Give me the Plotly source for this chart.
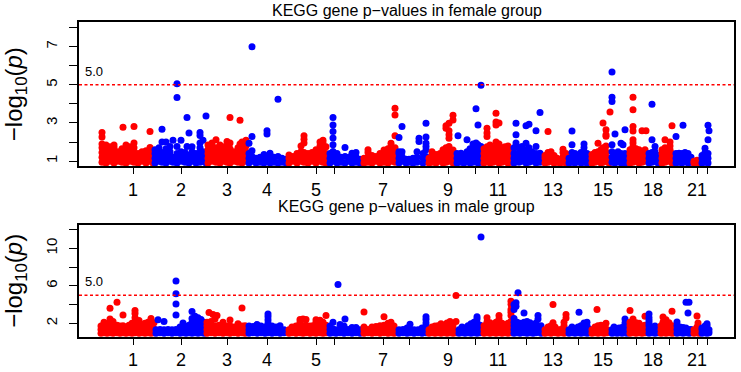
import plotly.graph_objects as go

RED = "#FF0000"
BLUE = "#0000FF"

# chromosome tick positions (cumulative position units) and labels
chrom_ticks = [133, 181, 227, 267, 316, 334, 383, 409, 448, 475, 498, 526,
               553, 578, 603, 617, 636, 653, 669, 683, 697, 707]
chrom_labels = ["1", "2", "3", "4", "5", "", "7", "", "9", "", "11", "",
                "13", "", "15", "", "", "18", "", "", "21", ""]

threshold = 5.0

female_yticks = [1, 2, 3, 4, 5, 6, 7, 8]
female_ylabels = ["1", "", "3", "", "5", "", "7", ""]
male_yticks = [2, 4, 6, 8, 10, 12]
male_ylabels = ["2", "", "6", "", "10", ""]

# (chromosome, cumulative position, -log10(p) values of genes at that position)
female_genes = [
    (1, 102, [0.95, 1.2, 1.45, 1.7, 1.9, 2.26, 2.5]),
    (1, 106, [0.9, 1.15, 1.4, 1.65, 1.85]),
    (1, 110, [1.0, 1.25, 1.5, 1.75]),
    (1, 114, [0.9, 1.15, 1.4, 1.7, 1.85]),
    (1, 118, [1.0, 1.25, 1.5]),
    (1, 122, [0.95, 1.2, 1.45, 1.65]),
    (1, 123, [2.78]),
    (1, 126, [0.9, 1.15, 1.4, 1.6, 1.85]),
    (1, 130, [1.0, 1.25, 1.5, 1.75]),
    (1, 134, [0.95, 1.2, 1.45, 1.7, 1.95, 2.81]),
    (1, 138, [0.9, 1.15, 1.4]),
    (1, 142, [1.0, 1.25, 1.5]),
    (1, 146, [0.9, 1.15, 1.4, 1.55]),
    (1, 150, [1.0, 1.25, 1.5, 1.72, 2.55]),
    (1, 153, [0.9, 1.15, 1.4]),
    (2, 155, [0.9, 1.15, 1.4, 1.6]),
    (2, 159, [1.0, 1.25, 1.5, 1.7]),
    (2, 162, [0.95, 1.2, 1.45, 2.0, 2.67]),
    (2, 166, [0.9, 1.15, 1.4, 1.65, 2.0]),
    (2, 170, [1.0, 1.25, 1.5, 1.77]),
    (2, 173, [0.95, 1.2, 2.1]),
    (2, 177, [0.9, 1.15, 1.4, 1.77, 4.33, 5.06]),
    (2, 181, [1.0, 1.25, 1.5, 2.1]),
    (2, 185, [0.95, 1.2, 1.45]),
    (2, 187, [1.33, 1.77, 3.29]),
    (2, 189, [0.9, 1.15, 2.47]),
    (2, 192, [1.0, 1.25, 1.5, 1.75]),
    (2, 196, [0.9, 1.15, 1.4]),
    (2, 200, [0.95, 1.2, 1.45, 1.7, 1.95, 2.35, 2.5]),
    (2, 203, [1.0, 1.25, 1.5, 2.1]),
    (2, 206, [0.9, 3.37]),
    (3, 208, [0.9, 1.15, 1.4, 1.6, 1.85]),
    (3, 212, [1.0, 1.25, 1.5, 1.75, 1.95]),
    (3, 216, [0.95, 1.2, 1.45, 1.7, 2.12]),
    (3, 220, [0.9, 1.15, 1.4, 1.65, 1.85]),
    (3, 224, [1.0, 1.25, 1.5, 1.75]),
    (3, 227, [0.95, 1.2, 1.45, 1.7, 2.03]),
    (3, 230, [0.9, 1.15, 1.4, 1.65, 1.95, 3.29]),
    (3, 234, [1.0, 1.25, 1.5]),
    (3, 238, [0.95, 1.2, 1.45, 1.7]),
    (3, 240, [1.9, 3.14]),
    (3, 242, [0.9, 1.15, 1.4, 1.65, 2.0]),
    (3, 246, [1.0, 1.25, 1.5, 1.8, 2.1]),
    (4, 249, [0.9, 1.15, 1.4, 1.94]),
    (4, 252, [1.0, 1.25, 1.55, 2.29, 7.0]),
    (4, 256, [0.9, 1.15]),
    (4, 260, [0.95, 1.2]),
    (4, 264, [0.9, 1.15, 1.35]),
    (4, 267, [1.0, 1.25, 2.43, 2.6]),
    (4, 270, [0.9, 1.15, 1.42]),
    (4, 274, [0.95, 1.2]),
    (4, 278, [0.9, 1.24, 4.24]),
    (4, 282, [0.95, 1.15]),
    (4, 286, [0.9, 1.1]),
    (5, 289, [0.9, 1.15, 1.33]),
    (5, 293, [1.0, 1.25]),
    (5, 297, [0.9, 1.15, 1.4]),
    (5, 301, [1.0, 1.25, 1.5, 1.8]),
    (5, 304, [0.95, 1.2, 1.45, 1.95, 2.15, 2.33]),
    (5, 308, [0.9, 1.15, 1.4]),
    (5, 312, [1.0, 1.25, 1.45]),
    (5, 316, [0.9, 1.15, 1.4, 1.6]),
    (5, 320, [1.0, 1.25, 1.5, 1.8, 2.0]),
    (5, 323, [0.95, 1.2, 1.45, 1.7, 1.95, 2.1]),
    (5, 326, [0.9, 1.15, 1.4, 1.75]),
    (6, 330, [0.9, 1.15, 1.4]),
    (6, 333, [1.0, 1.25, 1.51, 1.86, 2.21, 2.56, 2.9, 3.29]),
    (6, 337, [0.9, 1.15, 1.4]),
    (6, 341, [0.95, 1.2]),
    (6, 345, [0.9, 1.24, 1.72]),
    (6, 349, [1.0, 1.2]),
    (6, 352, [0.9, 1.15, 1.42]),
    (6, 356, [0.95, 1.2, 1.46]),
    (6, 360, [0.9, 1.1]),
    (7, 364, [0.9, 1.15]),
    (7, 368, [0.95, 1.2, 1.45, 1.6]),
    (7, 372, [0.9, 1.15, 1.3]),
    (7, 376, [1.0, 1.25]),
    (7, 380, [0.9, 1.15, 1.4]),
    (7, 384, [0.95, 1.2, 1.45, 1.59]),
    (7, 388, [0.9, 1.15, 1.4, 1.65]),
    (7, 391, [1.0, 1.25, 1.5, 1.77, 1.94]),
    (7, 395, [0.95, 1.2, 1.45, 1.7, 2.33, 3.42, 3.77]),
    (8, 399, [0.9, 1.15, 1.4, 1.5, 2.24]),
    (8, 402, [1.0, 1.25, 1.5, 2.81]),
    (8, 406, [0.9, 1.1]),
    (8, 409, [0.95, 1.1]),
    (8, 413, [0.9, 1.15]),
    (8, 417, [0.95, 1.2, 1.5]),
    (8, 419, [2.03, 2.2]),
    (8, 423, [0.9, 1.15, 1.4]),
    (8, 426, [1.0, 1.25, 1.6, 1.77, 1.94, 2.27, 2.99]),
    (9, 429, [0.9, 1.15]),
    (9, 432, [0.95, 1.2, 1.33, 1.5]),
    (9, 436, [0.9, 1.15, 1.35]),
    (9, 440, [1.0, 1.25, 1.4]),
    (9, 443, [0.9, 1.15, 1.4, 1.6]),
    (9, 446, [0.95, 1.2, 1.45, 1.7, 2.72, 2.85]),
    (9, 449, [1.0, 1.25, 1.5, 1.77, 2.2, 2.38, 2.6, 2.99]),
    (9, 453, [0.9, 1.15, 1.4, 1.59, 3.16, 3.4]),
    (9, 455, [0.95, 1.24]),
    (10, 457, [0.9, 1.15, 1.4]),
    (10, 458, [2.33]),
    (10, 461, [0.95, 1.2, 1.42]),
    (10, 464, [0.9, 1.15, 1.35]),
    (10, 467, [1.0, 1.25, 1.5, 2.12]),
    (10, 470, [0.9, 1.15, 1.4, 1.65]),
    (10, 473, [0.95, 1.2, 1.45, 1.7, 1.9]),
    (10, 476, [1.0, 1.25, 1.5, 1.75, 1.95, 3.74]),
    (10, 478, [0.9, 1.15, 1.4, 1.65, 1.86, 2.9]),
    (10, 481, [0.95, 1.2, 1.45, 1.77, 4.98]),
    (11, 484, [0.9, 1.15, 1.4, 1.65]),
    (11, 487, [1.0, 1.25, 1.5, 1.75, 2.29, 2.47, 2.72]),
    (11, 490, [0.9, 1.15, 1.4, 1.65, 1.85]),
    (11, 493, [0.95, 1.2, 1.45, 1.7]),
    (11, 496, [1.0, 1.25, 1.5, 1.75, 2.0, 2.9, 3.05, 3.51]),
    (11, 499, [0.9, 1.15, 1.4, 1.65, 1.9, 3.0]),
    (11, 502, [0.95, 1.2, 1.45, 1.7]),
    (11, 505, [1.0, 1.25, 1.5, 1.75]),
    (11, 508, [0.9, 1.15, 1.4, 1.65, 1.8]),
    (11, 511, [0.95, 1.2, 1.45]),
    (12, 514, [0.9, 1.15, 1.4, 1.7]),
    (12, 516, [1.95, 2.38, 2.99]),
    (12, 519, [0.95, 1.2, 1.45, 1.7]),
    (12, 522, [1.0, 1.25, 1.5, 1.77]),
    (12, 526, [0.9, 1.15, 1.4, 1.6, 1.94, 2.86]),
    (12, 529, [0.95, 1.2, 1.45, 1.7, 2.94]),
    (12, 532, [1.0, 1.25, 1.5]),
    (12, 536, [0.9, 1.15, 1.4, 1.77, 2.6]),
    (12, 540, [0.95, 1.2, 1.42, 3.55]),
    (13, 545, [0.9, 1.15, 1.3]),
    (13, 548, [0.95, 1.2, 1.45, 2.55]),
    (13, 551, [1.0, 1.25, 1.5]),
    (13, 554, [0.9, 1.15, 1.3]),
    (13, 557, [0.95, 1.15]),
    (13, 560, [0.9, 1.1]),
    (13, 563, [0.95, 1.2, 1.45, 1.63]),
    (13, 566, [0.9, 1.15, 1.4]),
    (14, 569, [0.9, 1.15]),
    (14, 572, [0.95, 1.2, 1.45, 1.86, 2.58]),
    (14, 575, [0.9, 1.15, 1.4]),
    (14, 578, [1.0, 1.25]),
    (14, 581, [0.9, 1.15, 1.45]),
    (14, 584, [0.95, 1.2, 1.45, 1.7, 1.9]),
    (14, 587, [0.9, 1.15, 1.4]),
    (14, 589, [1.0, 1.2]),
    (15, 592, [0.9, 1.15, 1.35]),
    (15, 595, [0.95, 1.2, 1.45]),
    (15, 598, [1.0, 1.25, 1.5, 1.94]),
    (15, 601, [0.9, 1.15, 1.4, 1.6]),
    (15, 603, [0.95, 1.2, 1.45, 1.7, 3.0]),
    (15, 606, [1.0, 1.25, 1.5, 1.8, 2.3, 2.38, 2.64]),
    (15, 609, [0.9, 1.15]),
    (15, 610, [3.58]),
    (16, 612, [0.95, 1.2, 1.5, 1.86, 4.12, 4.35, 5.67]),
    (16, 615, [0.9, 1.15, 1.4, 2.43]),
    (16, 618, [1.0, 1.25, 1.5]),
    (16, 621, [0.9, 1.15, 1.4, 1.94]),
    (16, 623, [1.0, 1.24, 1.86]),
    (16, 625, [0.9, 1.15, 1.4, 2.64]),
    (16, 627, [0.95, 1.2]),
    (17, 630, [0.9, 1.15, 1.4, 1.6]),
    (17, 633, [0.95, 1.2, 1.45, 1.77, 1.95, 2.12, 2.58, 2.81, 3.69, 4.35]),
    (17, 636, [1.0, 1.25, 1.5, 1.65]),
    (17, 639, [0.9, 1.15, 1.4, 1.6]),
    (17, 642, [0.95, 1.2, 1.45, 2.59]),
    (17, 645, [1.0, 1.25, 1.5, 1.6]),
    (17, 646, [2.59]),
    (18, 649, [0.9, 1.15, 1.4]),
    (18, 652, [0.95, 1.2, 1.45, 2.12, 3.98]),
    (18, 655, [1.0, 1.25, 1.5, 1.77]),
    (18, 658, [0.9, 1.15, 1.3]),
    (19, 662, [0.9, 1.15, 1.4, 1.6]),
    (19, 665, [0.95, 1.2, 1.45, 1.7, 2.12]),
    (19, 668, [1.0, 1.25, 1.5]),
    (19, 670, [1.6, 1.8, 2.0]),
    (19, 672, [0.9, 1.15, 1.4, 2.85]),
    (19, 674, [0.95, 1.2]),
    (20, 676, [0.9, 1.15, 1.4, 2.29]),
    (20, 679, [0.95, 1.2, 1.42]),
    (20, 682, [0.9, 1.15, 1.4]),
    (20, 683, [2.88]),
    (20, 685, [1.0, 1.25, 1.45]),
    (20, 688, [0.9, 1.15, 1.4]),
    (20, 691, [0.95, 1.2]),
    (21, 694, [0.9, 1.0]),
    (21, 697, [0.85, 0.95, 1.05]),
    (21, 699, [0.9]),
    (22, 702, [0.9, 1.15, 1.3]),
    (22, 705, [0.95, 1.2, 1.45, 1.68]),
    (22, 708, [0.9, 1.15, 1.4, 2.12, 2.88]),
    (22, 709, [2.6]),
]

male_genes = [
    (1, 101, [0.95, 1.35, 1.7]),
    (1, 104, [1.0, 1.4, 1.8, 2.1]),
    (1, 107, [0.95, 1.35, 1.75]),
    (1, 110, [1.0, 1.4, 1.8, 2.1, 2.46, 3.61]),
    (1, 113, [0.95, 1.35, 1.75, 2.2]),
    (1, 117, [1.0, 1.4, 1.8, 4.25]),
    (1, 120, [0.95, 1.35, 1.7]),
    (1, 123, [1.0, 1.4, 1.75, 2.88]),
    (1, 126, [0.95, 1.35, 1.6]),
    (1, 129, [1.0, 1.4, 1.8]),
    (1, 132, [0.95, 1.35, 1.75, 2.0]),
    (1, 135, [1.0, 1.4, 1.8, 2.2, 2.6, 3.05, 3.36]),
    (1, 139, [0.95, 1.35, 1.75, 2.3]),
    (1, 142, [1.0, 1.4, 1.8]),
    (1, 145, [0.95, 1.35, 1.75, 2.0]),
    (1, 148, [1.0, 1.4, 1.8, 2.1]),
    (1, 151, [0.95, 1.35, 1.75, 2.5]),
    (1, 154, [1.0, 1.4, 2.05]),
    (2, 156, [0.95, 1.3]),
    (2, 158, [2.39]),
    (2, 160, [1.0, 1.35]),
    (2, 164, [0.95, 1.3, 2.18]),
    (2, 168, [1.0, 1.35]),
    (2, 172, [0.95, 1.3]),
    (2, 176, [1.0, 1.35, 2.89, 4.07, 5.14, 6.5]),
    (2, 180, [0.95, 1.3, 1.6]),
    (2, 183, [1.0, 1.35, 2.04]),
    (2, 186, [0.95, 1.3, 1.65]),
    (2, 189, [1.0, 1.4, 1.8]),
    (2, 192, [0.95, 1.35, 1.75, 2.1, 2.5, 3.25]),
    (2, 195, [1.0, 1.4, 1.8, 2.2, 2.75]),
    (2, 198, [0.95, 1.35, 1.75, 2.15, 2.6]),
    (2, 201, [1.0, 1.4, 1.8, 2.4]),
    (2, 204, [0.95, 1.35, 1.75, 2.1]),
    (3, 207, [0.95, 1.35, 1.75, 2.1]),
    (3, 209, [3.15]),
    (3, 211, [1.0, 1.4, 1.8, 2.2]),
    (3, 213, [2.95]),
    (3, 215, [0.95, 1.35, 1.75, 2.46]),
    (3, 217, [2.82]),
    (3, 219, [1.0, 1.4, 1.8]),
    (3, 223, [0.95, 1.35, 1.75, 2.1]),
    (3, 227, [1.0, 1.4, 1.7]),
    (3, 230, [0.95, 1.35, 1.75, 2.35]),
    (3, 234, [1.0, 1.4, 1.6]),
    (3, 238, [0.95, 1.35, 1.75, 1.96]),
    (3, 242, [1.0, 1.4, 1.7, 3.63]),
    (3, 245, [0.95, 1.35, 1.75]),
    (4, 249, [0.95, 1.3, 1.7]),
    (4, 253, [1.0, 1.35, 1.65]),
    (4, 257, [0.95, 1.3, 1.86]),
    (4, 261, [1.0, 1.35, 1.7]),
    (4, 265, [0.95, 1.3, 1.6]),
    (4, 268, [1.0, 1.35, 1.7, 2.0, 2.35, 2.7, 3.0]),
    (4, 272, [0.95, 1.3, 1.7]),
    (4, 276, [1.0, 1.35, 1.6]),
    (4, 280, [0.95, 1.3, 1.75]),
    (4, 284, [1.0, 1.3]),
    (5, 289, [0.95, 1.3]),
    (5, 292, [1.0, 1.35, 1.6]),
    (5, 296, [0.95, 1.3, 1.7]),
    (5, 300, [1.0, 1.35, 1.75, 2.1, 2.4]),
    (5, 303, [0.95, 1.35, 1.75, 2.46]),
    (5, 306, [1.0, 1.4, 1.8, 2.4]),
    (5, 310, [0.95, 1.35, 1.7]),
    (5, 313, [1.0, 1.35, 1.75]),
    (5, 316, [0.95, 1.35, 1.75, 2.1, 2.39]),
    (5, 320, [1.0, 1.4, 1.8, 2.32]),
    (5, 323, [0.95, 1.35, 1.75, 2.1]),
    (5, 326, [1.0, 1.4, 1.8, 2.82]),
    (6, 330, [0.95, 1.35, 1.7]),
    (6, 333, [1.0, 1.4, 2.1]),
    (6, 336, [0.95, 1.3]),
    (6, 338, [6.14]),
    (6, 340, [1.0, 1.35, 1.86]),
    (6, 344, [0.95, 1.3, 1.7]),
    (6, 345, [2.46]),
    (6, 348, [1.0, 1.35]),
    (6, 352, [0.95, 1.3, 1.55]),
    (6, 356, [1.0, 1.35, 1.55]),
    (6, 360, [0.95, 1.3]),
    (7, 364, [0.95, 1.35, 1.6, 3.2]),
    (7, 368, [1.0, 1.35]),
    (7, 372, [0.95, 1.3, 1.6]),
    (7, 376, [1.0, 1.35, 1.65]),
    (7, 380, [0.95, 1.35, 1.75]),
    (7, 384, [1.0, 1.4, 1.8, 2.7]),
    (7, 388, [0.95, 1.35, 1.75, 2.0]),
    (7, 391, [1.0, 1.4, 1.8, 2.11]),
    (7, 394, [0.95, 1.35, 1.7]),
    (8, 399, [0.95, 1.3]),
    (8, 403, [1.0, 1.35]),
    (8, 407, [0.95, 1.3, 1.5]),
    (8, 410, [1.0, 1.35, 1.9]),
    (8, 414, [0.95, 1.3]),
    (8, 418, [1.0, 1.3]),
    (8, 422, [0.95, 1.3, 1.5]),
    (8, 426, [1.0, 1.35, 1.75, 2.04, 2.4, 2.7]),
    (9, 429, [0.95, 1.3]),
    (9, 432, [1.0, 1.35, 1.6]),
    (9, 435, [0.95, 1.3, 1.7]),
    (9, 438, [1.0, 1.35, 1.75]),
    (9, 441, [0.95, 1.35, 1.75, 1.95]),
    (9, 444, [1.0, 1.4, 1.8]),
    (9, 447, [0.95, 1.35, 1.75, 2.04]),
    (9, 450, [1.0, 1.4, 1.8, 2.2]),
    (9, 453, [0.95, 1.35, 1.75]),
    (9, 456, [1.0, 2.2, 4.97]),
    (10, 459, [0.95, 1.3]),
    (10, 462, [1.0, 1.35, 1.6]),
    (10, 465, [0.95, 1.3, 1.5]),
    (10, 468, [1.0, 1.35, 1.75]),
    (10, 471, [0.95, 1.35, 1.75, 1.96]),
    (10, 474, [1.0, 1.4, 1.8, 2.1]),
    (10, 477, [0.95, 1.35, 1.75, 2.05, 2.46, 2.7]),
    (10, 480, [1.0, 1.4, 1.8]),
    (10, 481, [11.21]),
    (11, 484, [0.95, 1.35, 1.75]),
    (11, 487, [1.0, 1.4, 1.8, 2.15, 2.6]),
    (11, 490, [0.95, 1.35, 1.75, 2.05]),
    (11, 493, [1.0, 1.4, 1.8]),
    (11, 496, [0.95, 1.35, 1.75, 2.1]),
    (11, 499, [1.0, 1.4, 1.8, 2.1, 2.46, 2.82]),
    (11, 502, [0.95, 1.35, 1.75, 2.0]),
    (11, 505, [1.0, 1.4, 1.8]),
    (11, 508, [0.95, 1.35, 1.75, 2.0]),
    (11, 511, [1.0, 1.4, 1.8, 2.2, 2.82, 3.18, 3.46, 4.0, 4.36]),
    (12, 514, [0.95, 1.35, 1.75, 2.1, 2.5, 3.46, 4.0]),
    (12, 516, [3.82, 4.18]),
    (12, 517, [1.0, 1.4, 1.8, 2.1]),
    (12, 518, [5.25]),
    (12, 520, [0.95, 1.35, 1.75, 2.0]),
    (12, 524, [1.0, 1.4, 1.8, 2.1, 3.1]),
    (12, 527, [0.95, 1.35, 1.75, 2.2]),
    (12, 530, [1.0, 1.4, 1.8, 2.05]),
    (12, 533, [0.95, 1.35, 1.75]),
    (12, 536, [1.0, 1.4, 1.8, 2.04]),
    (12, 538, [2.46, 2.82]),
    (12, 541, [0.95, 1.35, 1.75]),
    (13, 545, [0.95, 1.3]),
    (13, 548, [1.0, 1.35, 1.6]),
    (13, 551, [0.95, 1.35, 1.75]),
    (13, 553, [2.05, 4.0]),
    (13, 555, [1.0, 1.35, 1.6]),
    (13, 558, [0.95, 1.3]),
    (13, 561, [1.0, 1.35]),
    (13, 564, [0.95, 1.35, 1.75, 2.11]),
    (13, 566, [2.57, 2.93]),
    (14, 569, [0.95, 1.3]),
    (14, 572, [1.0, 1.35, 1.6]),
    (14, 575, [0.95, 1.3]),
    (14, 578, [1.0, 1.35, 1.6]),
    (14, 579, [3.18]),
    (14, 581, [0.95, 1.35, 1.75]),
    (14, 584, [1.0, 1.4, 1.8, 2.04]),
    (14, 587, [0.95, 1.35, 1.75, 2.11]),
    (14, 589, [1.0, 1.4]),
    (15, 592, [0.95, 1.3]),
    (15, 595, [1.0, 1.35, 1.6]),
    (15, 597, [3.46]),
    (15, 598, [0.95, 1.35, 1.75]),
    (15, 601, [1.0, 1.4, 1.8]),
    (15, 604, [0.95, 1.35, 1.75]),
    (15, 606, [2.0]),
    (15, 607, [1.0, 1.35]),
    (16, 612, [0.95, 1.3]),
    (16, 614, [1.0, 1.35, 1.6]),
    (16, 617, [0.95, 1.3]),
    (16, 619, [1.0, 1.35, 1.5]),
    (16, 622, [0.95, 1.3, 1.55]),
    (16, 625, [1.0, 1.4, 1.75, 2.04, 2.46]),
    (16, 627, [0.95, 1.3]),
    (17, 630, [0.95, 1.35, 1.75, 2.1, 3.36]),
    (17, 633, [1.0, 1.4, 1.8, 2.0, 2.46]),
    (17, 636, [0.95, 1.35, 1.75, 2.05]),
    (17, 639, [1.0, 1.4, 1.8, 2.0]),
    (17, 642, [0.95, 1.35, 1.75]),
    (17, 645, [1.0, 1.4, 1.8, 2.75]),
    (18, 649, [0.95, 1.35, 1.75, 2.04, 2.3, 2.6, 3.0]),
    (18, 652, [1.0, 1.35, 1.6]),
    (18, 655, [0.95, 1.3, 1.7]),
    (18, 658, [1.0, 1.35, 1.5]),
    (19, 661, [0.95, 1.35, 1.75]),
    (19, 663, [1.0, 1.4, 1.8, 2.1, 2.68]),
    (19, 666, [0.95, 1.35, 1.75, 2.04, 2.39]),
    (19, 669, [1.0, 1.4, 1.8, 2.05]),
    (19, 672, [0.95, 1.35, 1.75, 3.29]),
    (19, 674, [1.0, 1.4]),
    (20, 677, [0.95, 1.35, 1.75, 2.15]),
    (20, 680, [1.0, 1.35, 1.6]),
    (20, 683, [0.95, 1.3, 1.55]),
    (20, 686, [1.0, 1.35, 1.5, 4.25]),
    (20, 688, [3.1]),
    (20, 689, [0.95, 1.3, 4.25]),
    (20, 691, [1.0, 1.35]),
    (21, 694, [0.95, 1.3]),
    (21, 697, [1.0, 1.35, 1.6, 2.78]),
    (21, 698, [2.04]),
    (21, 699, [0.95, 1.3]),
    (22, 702, [0.95, 1.3, 1.5]),
    (22, 705, [1.0, 1.35, 1.7]),
    (22, 707, [0.95, 1.35, 1.75, 1.96]),
    (22, 709, [1.0, 1.3]),
]


def expand(genes):
    xs, ys, cs = [], [], []
    for chrom, pos, vals in genes:
        for v in vals:
            xs.append(pos)
            ys.append(v)
            cs.append(RED if chrom % 2 == 1 else BLUE)
    return xs, ys, cs


FONT = "Liberation Sans, Arial, Helvetica, sans-serif"
YTITLE = "\u2212log<sub>10</sub>(<i>p</i>)"

fx, fy, fc = expand(female_genes)
mx, my, mc = expand(male_genes)

fig = go.Figure()
fig.add_trace(go.Scatter(x=fx, y=fy, mode="markers", xaxis="x", yaxis="y",
                         marker=dict(size=7, color=fc, line=dict(width=0)),
                         hoverinfo="skip", showlegend=False))
fig.add_trace(go.Scatter(x=mx, y=my, mode="markers", xaxis="x2", yaxis="y2",
                         marker=dict(size=7, color=mc, line=dict(width=0)),
                         hoverinfo="skip", showlegend=False))

xcommon = dict(range=[79, 734], tickmode="array", tickvals=chrom_ticks,
               ticktext=chrom_labels, ticks="outside", ticklen=6, tickwidth=1,
               tickcolor="black", showline=True, linecolor="black", linewidth=1.5,
               mirror=True, showgrid=False, zeroline=False, automargin=False,
               tickfont=dict(family=FONT, size=18, color="black"))
ycommon = dict(ticks="outside", ticklen=8, tickwidth=1, tickcolor="black",
               showline=True, linecolor="black", linewidth=1.5, mirror=True,
               showgrid=False, zeroline=False, tickangle=-90, tickmode="array",
               ticklabelstandoff=6, automargin=False,
               tickfont=dict(family=FONT, size=15, color="black"),
               title=dict(text=YTITLE, standoff=27,
                          font=dict(family=FONT, size=24, color="black")))

fig.update_layout(
    width=741, height=372,
    margin=dict(l=79, r=7, t=22, b=35, autoexpand=False),
    paper_bgcolor="white", plot_bgcolor="white",
    font=dict(family=FONT, color="black"),
    xaxis=dict(domain=[0, 1], anchor="y", **xcommon),
    yaxis=dict(domain=[0.5418, 1], anchor="x", range=[0.73, 8.29],
               tickvals=female_yticks, ticktext=female_ylabels, **ycommon),
    xaxis2=dict(domain=[0, 1], anchor="y2", **xcommon),
    yaxis2=dict(domain=[0, 0.3566], anchor="x2", range=[0.54, 12.52],
                tickvals=male_yticks, ticktext=male_ylabels, **ycommon),
)

for xr, yr in (("x", "y"), ("x2", "y2")):
    fig.add_shape(type="line", xref=xr + " domain", yref=yr, x0=0, x1=1,
                  y0=threshold, y1=threshold,
                  line=dict(color=RED, width=1.5, dash="3px,2.5px"))
    fig.add_annotation(xref=xr + " domain", yref=yr, x=0.006, y=threshold,
                       text=f"{threshold:.1f}", showarrow=False,
                       xanchor="left", yanchor="bottom", yshift=4,
                       font=dict(family=FONT, size=13, color="black"))

fig.add_annotation(xref="paper", yref="paper", x=0.5, y=1.038,
                   text="KEGG gene p\u2212values in female group", showarrow=False,
                   xanchor="center", yanchor="middle",
                   font=dict(family=FONT, size=16, color="black"))
fig.add_annotation(xref="paper", yref="paper", x=0.5, y=0.413,
                   text="KEGG gene p\u2212values in male group", showarrow=False,
                   xanchor="center", yanchor="middle",
                   font=dict(family=FONT, size=16, color="black"))

# remove the default 8px page margin so the figure fills the window exactly
fig.write_html("out.html",
               config={"displayModeBar": False},
               post_script="document.body.style.margin='0px';"
                           "document.body.style.overflow='hidden';")
